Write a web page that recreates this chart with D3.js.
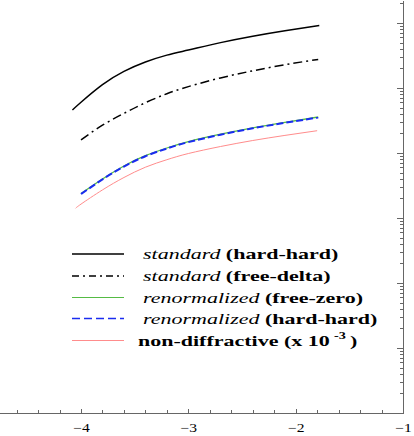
<!DOCTYPE html>
<html lang="en">
<head>
<meta charset="UTF-8">
<title>Cross sections</title>
<script src="https://d3js.org/d3.v7.min.js"></script>
<style>
body { margin: 0; background: #fff; }
svg { display: block; }
.axis path, .axis line { stroke: #666; shape-rendering: crispEdges; }
</style>
</head>
<body>
<svg width="414" height="436"></svg>
<script>
const serif = "'Liberation Serif', 'Times New Roman', Times, 'DejaVu Serif', serif";

// x = log10 of the variable, y
const stdHardX = [-4.08, -4.0, -3.8, -3.6, -3.4, -3.2, -3.0, -2.7, -2.4, -2.1, -1.78];
const stdHardY = [45.9, 60.3, 112.4, 180.0, 251.2, 320.7, 384.2, 499.4, 626.5, 761.0, 915];

const stdFreeX = [-4.0, -3.8, -3.6, -3.4, -3.2, -3.0, -2.7, -2.4, -2.1, -1.79];
const stdFreeY = [15.96, 26.8, 40.7, 59.4, 81.7, 105.1, 143.0, 183.9, 228.3, 275.4];

const renFreeX = [-4.0, -3.8, -3.6, -3.4, -3.2, -3.0, -2.7, -2.4, -2.1, -1.79];
const renFreeY = [2.38, 3.99, 6.31, 9.09, 11.94, 14.98, 19.46, 24.42, 29.67, 35.8];

const renHardX = [-4.0, -3.8, -3.6, -3.4, -3.2, -3.0, -2.7, -2.4, -2.1, -1.79];
const renHardY = [2.34, 3.92, 6.20, 8.93, 11.73, 14.72, 19.12, 23.99, 29.15, 35.17];

const nonDiffX = [-4.05, -4.0, -3.8, -3.6, -3.4, -3.2, -3.0, -2.7, -2.4, -2.1, -1.8];
const nonDiffY = [1.41, 1.636, 2.706, 4.20, 6.05, 7.89, 9.82, 12.59, 15.57, 18.66, 22.03];

const xMajorTicks = [-4, -3, -2, -1];
const legendItalic = ["standard", "standard", "renormalized", "renormalized", ""];
const legendBold   = ["(hard-hard)", "(free-delta)", "(free-zero)", "(hard-hard)", "non-diffractive (x 10"];

const svg = d3.select("svg");

// plot frame: right axis at x=403, bottom axis at y=413 (left part cut off)
const x = d3.scaleLinear().domain([-5, -1]).range([403 - 4 * 107.33, 403]);
const y = d3.scaleLog().domain([1e-3, 2260]).range([413, 0]);

// bottom axis, ticks pointing in
const xMinor = d3.range(-4.8, -1, 0.2).filter(v => Math.abs(v - Math.round(v)) > 1e-6);
svg.append("g").attr("class", "axis")
    .attr("transform", "translate(0,413)")
    .call(d3.axisBottom(x).tickValues(xMinor).tickSize(-3).tickSizeOuter(0).tickFormat(""));
const xAxis = svg.append("g").attr("class", "axis")
    .attr("transform", "translate(0,413)")
    .call(d3.axisBottom(x).tickValues(xMajorTicks).tickSize(-4).tickSizeOuter(0)
      .tickPadding(10).tickFormat(d3.format("d")));
xAxis.selectAll("text")
    .style("font-family", serif)
    .style("font-size", "12px")
    .attr("fill", "#000")
    .attr("transform", function() {
      const yy = +d3.select(this).attr("y");
      return "translate(0," + yy + ") scale(1.3,1)";
    })
    .attr("y", 0);

// right axis, log ticks pointing in
const yMajor = [], yMinor = [];
for (let k = -3; k <= 3; k++) {
  yMajor.push(Math.pow(10, k));
  for (let m = 2; m <= 9; m++) {
    const v = m * Math.pow(10, k);
    if (v <= 2260) yMinor.push(v);
  }
}
svg.append("g").attr("class", "axis")
    .attr("transform", "translate(403,0)")
    .call(d3.axisLeft(y).tickValues(yMinor).tickSize(3).tickSizeOuter(0).tickFormat(""));
svg.append("g").attr("class", "axis")
    .attr("transform", "translate(403,0)")
    .call(d3.axisLeft(y).tickValues(yMajor).tickSize(6).tickSizeOuter(0).tickFormat(""));

const line = d3.line()
    .x(d => x(d[0]))
    .y(d => y(d[1]))
    .curve(d3.curveNatural);

const series = [
  { xs: stdHardX, ys: stdHardY, color: "#000", width: 1.5, dash: null },
  { xs: stdFreeX, ys: stdFreeY, color: "#000", width: 1.5, dash: "9,4,2,4" },
  { xs: renFreeX, ys: renFreeY, color: "#55bb44", width: 1.3, dash: null },
  { xs: renHardX, ys: renHardY, color: "#1a2cf0", width: 2, dash: "7,3" },
  { xs: nonDiffX, ys: nonDiffY, color: "#ff8c8c", width: 1, dash: null }
];

svg.append("g").selectAll("path")
  .data(series)
  .enter().append("path")
    .attr("d", s => line(s.xs.map((v, i) => [v, s.ys[i]])))
    .attr("fill", "none")
    .attr("stroke", s => s.color)
    .attr("stroke-width", s => s.width)
    .attr("stroke-dasharray", s => s.dash);

// legend
const rowY = [254, 276, 297.5, 318.5, 340.5];
const legend = svg.append("g");
series.forEach(function(s, i) {
  legend.append("line")
    .attr("x1", 72).attr("x2", 124)
    .attr("y1", rowY[i]).attr("y2", rowY[i])
    .attr("stroke", s.color)
    .attr("stroke-width", i === 3 ? 1.6 : (i < 2 ? 1.3 : 1))
    .attr("stroke-dasharray", i === 1 ? "7,4,2,4" : (i === 3 ? "8,4" : null));

  const t = legend.append("text")
    .style("font-family", serif)
    .style("font-size", "15.5px")
    .attr("fill", "#000")
    .attr("transform", "translate(" + (i === 4 ? 138 : 143) + "," + (Math.round(rowY[i]) + 5) + ") scale(1.42,1)");
  if (legendItalic[i]) {
    t.append("tspan").style("font-style", "italic").text(legendItalic[i] + " ");
  }
  t.append("tspan").style("font-weight", "bold").text(legendBold[i]);
  if (i === 4) {
    t.append("tspan").style("font-weight", "bold").style("font-size", "10px")
      .attr("dx", 3).attr("dy", -7).text("-3");
    t.append("tspan").style("font-weight", "bold")
      .attr("dx", 3).attr("dy", 7).text(")");
  }
});
</script>
</body>
</html>
